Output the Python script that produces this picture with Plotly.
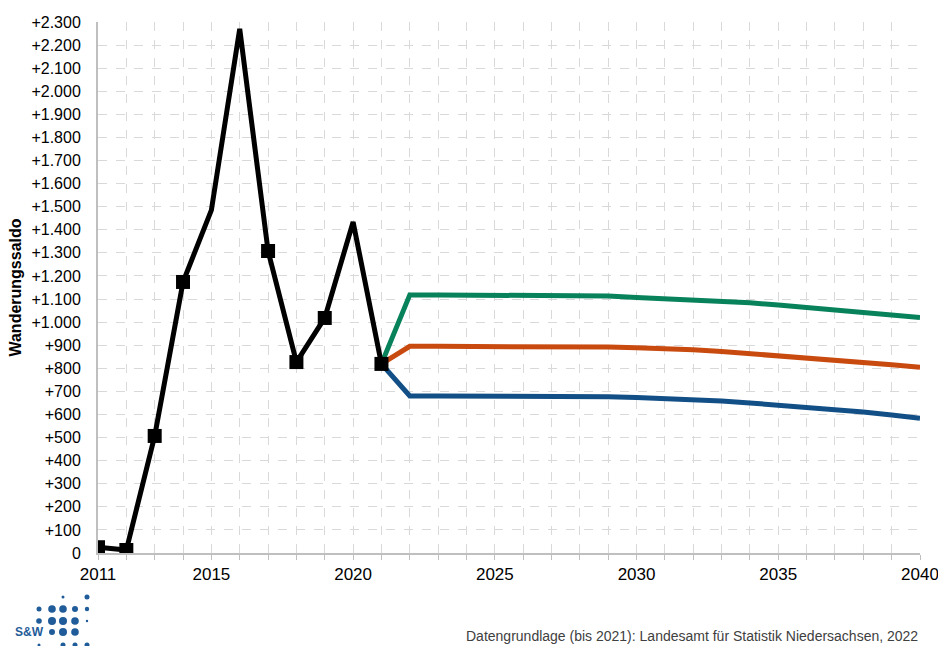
import plotly.graph_objects as go

# ---- data ----
hist_years = [2011, 2012, 2013, 2014, 2015, 2016, 2017, 2018, 2019, 2020, 2021]
hist_values = [25, 13, 507, 1174, 1485, 2270, 1308, 827, 1018, 1434, 819]
marker_years = [2011, 2012, 2013, 2014, 2017, 2018, 2019, 2021]
marker_values = [25, 13, 507, 1174, 1308, 827, 1018, 819]

proj_years = list(range(2021, 2041))
high_values = [819, 1118, 1118, 1118, 1118, 1118, 1118, 1118, 1113, 1107, 1102, 1098, 1093,
               1084, 1074, 1064, 1053, 1042, 1032, 1020]
mid_values = [819, 895, 895, 895, 895, 895, 895, 895, 892, 889, 886, 880, 873,
              864, 855, 846, 836, 826, 815, 804]
low_values = [819, 680, 680, 680, 680, 680, 680, 680, 677, 674, 670, 664, 658,
              650, 641, 632, 621, 611, 598, 584]

y_tickvals = list(range(0, 2301, 100))
y_ticktext = ["0"] + ["+" + (f"{v:,}".replace(",", ".")) for v in y_tickvals[1:]]
x_tickvals = list(range(2011, 2041))
x_labelled = [2011, 2015, 2020, 2025, 2030, 2035, 2040]
x_ticktext = [str(v) if v in x_labelled else "" for v in x_tickvals]

# ---- styling ----
FONT = "Liberation Sans, Arial, sans-serif"
GREEN = "#08825a"
ORANGE = "#c94a0e"
BLUE = "#124f86"
GRID = "#d9d9d9"

W, H = 938, 646
L, R, T, B = 98, 18, 22, 93
pw, ph = W - L - R, H - T - B

fig = go.Figure()
for vals, col in [(high_values, GREEN), (mid_values, ORANGE), (low_values, BLUE)]:
    fig.add_trace(go.Scatter(x=proj_years, y=vals, mode="lines",
                             line=dict(color=col, width=5), showlegend=False,
                             hoverinfo="skip"))
fig.add_trace(go.Scatter(x=hist_years, y=hist_values, mode="lines",
                         line=dict(color="black", width=5), showlegend=False))
fig.add_trace(go.Scatter(x=marker_years, y=marker_values, mode="markers",
                         marker=dict(symbol="square", size=14, color="black"),
                         showlegend=False))

# logo (decorative)
def px2paper(x, y):
    return (x - L) / pw, (H - B - y) / ph

dots = [
    (63, 597, 1.5), (87, 597, 2.5),
    (39, 609, 2.5), (52, 609, 3.8), (63, 609, 3.8), (75, 609, 3), (87, 609, 2.2),
    (39, 621, 2.8), (52, 621, 4), (63, 621, 4), (75, 621, 3.8), (87, 621, 1.2),
    (52, 632, 3), (63, 632, 4), (75, 632, 3.8),
    (39, 645, 1.5), (63, 645, 2.5), (75, 645, 2.5), (87, 645, 2.5),
]
shapes = []
for (cx, cy, r) in dots:
    x0, y0 = px2paper(cx - r, cy + r)
    x1, y1 = px2paper(cx + r, cy - r)
    shapes.append(dict(type="circle", xref="paper", yref="paper",
                       x0=x0, y0=y0, x1=x1, y1=y1,
                       fillcolor="#1f5c99", line=dict(width=0)))

sx, sy = px2paper(29, 632)
fx, fy = px2paper(920, 636)
annotations = [
    dict(text="<b>S&W</b>", x=sx, y=sy, xref="paper", yref="paper",
         showarrow=False, xanchor="center", yanchor="middle",
         font=dict(family=FONT, size=12, color="#1f5c99")),
    dict(text="Datengrundlage (bis 2021): Landesamt für Statistik Niedersachsen, 2022",
         x=fx, y=fy, xref="paper", yref="paper", showarrow=False,
         xanchor="right", yanchor="middle",
         font=dict(family=FONT, size=14, color="#404040")),
]

fig.update_layout(
    width=W, height=H,
    margin=dict(l=L, r=R, t=T, b=B),
    paper_bgcolor="white", plot_bgcolor="white",
    font=dict(family=FONT, size=17, color="black"),
    shapes=shapes, annotations=annotations,
    xaxis=dict(range=[2011, 2040], tickvals=x_tickvals, ticktext=x_ticktext,
               showgrid=True, gridcolor=GRID, griddash="dash", gridwidth=1,
               showline=True, linecolor="#bfbfbf", linewidth=2,
               ticks="outside", ticklen=5, tickcolor="#bfbfbf",
               ticklabeloverflow="allow", automargin=False,
               zeroline=False, tickfont=dict(size=17)),
    yaxis=dict(range=[0, 2300], tickvals=y_tickvals, ticktext=y_ticktext,
               showgrid=True, gridcolor=GRID, griddash="dash", gridwidth=1,
               showline=True, linecolor="#bfbfbf", linewidth=2,
               zeroline=False, ticks="", tickfont=dict(size=16),
               ticklabelstandoff=12, automargin=False,
               title=dict(text="<b>Wanderungssaldo</b>", font=dict(size=16),
                          standoff=6)),
)

fig.write_html("out.html")
